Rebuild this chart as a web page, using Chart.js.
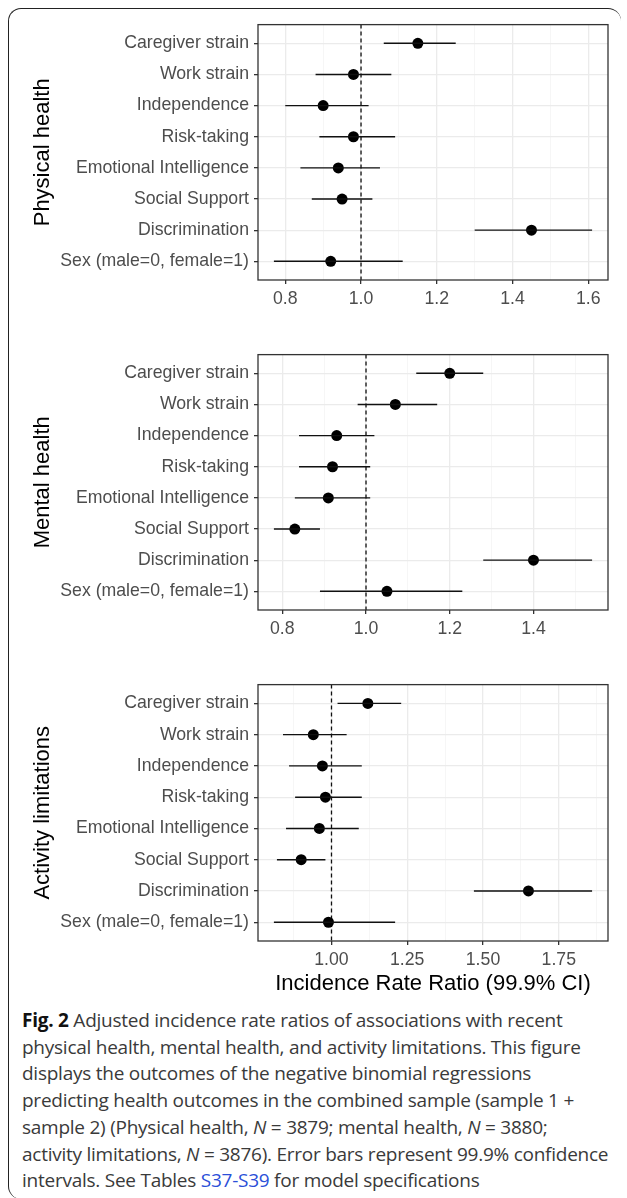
<!DOCTYPE html>
<html>
<head>
<meta charset="utf-8">
<script src="https://cdn.jsdelivr.net/npm/chart.js@4.4.0/dist/chart.umd.min.js"></script>
<style>
  html, body { margin: 0; padding: 0; background: #fff; }
  body { width: 627px; height: 1198px; position: relative; overflow: hidden; }
  .card { position: absolute; left: 8px; top: 8px; width: 613px; height: 1191px; box-sizing: border-box;
          border: 1.5px solid #222; border-right: none; border-bottom: none;
          border-radius: 13px 13px 0 13px; }
  canvas { position: absolute; left: 10px; }
  #caption { position: absolute; left: 22px; top: 1007px; width: 605px; white-space: nowrap;
             font-family: 'Open Sans', sans-serif; font-size: 19px; line-height: 26.7px; color: #3a3a3a; letter-spacing: -0.25px; }
  #caption b { color: #111; }
  #caption .lnk { color: #2b4fd8; }
</style>
</head>
<body>
<div class="card"></div>
<canvas id="physical" width="610" height="300"></canvas>
<canvas id="mental" width="610" height="300"></canvas>
<canvas id="activity" width="610" height="320"></canvas>
<div id="caption"><b>Fig. 2</b> Adjusted incidence rate ratios of associations with recent<br>physical health, mental health, and activity limitations. This figure<br>displays the outcomes of the negative binomial regressions<br>predicting health outcomes in the combined sample (sample 1 +<br>sample 2) (Physical health, <i>N</i> = 3879; mental health, <i>N</i> = 3880;<br>activity limitations, <i>N</i> = 3876). Error bars represent 99.9% confidence<br>intervals. See Tables <span class="lnk">S37-S39</span> for model specifications</div>
<script>
// predictors, top to bottom
const predictors = ['Caregiver strain', 'Work strain', 'Independence', 'Risk-taking',
  'Emotional Intelligence', 'Social Support', 'Discrimination', 'Sex (male=0, female=1)'];

// incidence rate ratios and 99.9% CI
const physicalIrr  = [1.15, 0.98, 0.90, 0.98, 0.94, 0.95, 1.45, 0.92];
const physicalLow  = [1.06, 0.88, 0.80, 0.89, 0.84, 0.87, 1.30, 0.77];
const physicalHigh = [1.25, 1.08, 1.02, 1.09, 1.05, 1.03, 1.61, 1.11];

const mentalIrr  = [1.20, 1.07, 0.93, 0.92, 0.91, 0.83, 1.40, 1.05];
const mentalLow  = [1.12, 0.98, 0.84, 0.84, 0.83, 0.78, 1.28, 0.89];
const mentalHigh = [1.28, 1.17, 1.02, 1.01, 1.01, 0.89, 1.54, 1.23];

const activityIrr  = [1.12, 0.94, 0.97, 0.98, 0.96, 0.90, 1.65, 0.99];
const activityLow  = [1.02, 0.84, 0.86, 0.88, 0.85, 0.82, 1.47, 0.81];
const activityHigh = [1.23, 1.05, 1.10, 1.10, 1.09, 0.98, 1.86, 1.21];

// x tick labels per panel
const physicalTicks = [0.8, 1.0, 1.2, 1.4, 1.6];
const mentalTicks = [0.8, 1.0, 1.2, 1.4];
const activityTicks = [1.00, 1.25, 1.50, 1.75];

const refLine = 1;

Chart.defaults.font.family = "'Liberation Sans', Arial, sans-serif";

const panelDecor = {
  id: 'panelDecor',
  beforeDatasetsDraw(chart) {
    const { ctx, chartArea: a, scales: { x } } = chart;
    const px = x.getPixelForValue(refLine);
    ctx.save();
    ctx.strokeStyle = '#111';
    ctx.lineWidth = 1.3;
    ctx.setLineDash([4, 3]);
    ctx.beginPath();
    ctx.moveTo(px, a.top);
    ctx.lineTo(px, a.bottom);
    ctx.stroke();
    ctx.restore();
  },
  afterDatasetsDraw(chart) {
    const { ctx, chartArea: a } = chart;
    ctx.save();
    ctx.strokeStyle = '#333';
    ctx.lineWidth = 1.3;
    ctx.strokeRect(a.left, a.top, a.right - a.left, a.bottom - a.top);
    ctx.restore();
  }
};

function panelConfig(yTitle, irr, low, high, majors, decimals, xTitle, axisHeight) {
  // ggplot style range: data range plus 5% each side
  const lo = Math.min(...low), hi = Math.max(...high);
  const pad = (hi - lo) * 0.05;
  const xmin = lo - pad, xmax = hi + pad;
  const step = majors[1] - majors[0];
  const minors = [majors[0] - step / 2, ...majors.map(m => m + step / 2)].filter(v => v > xmin && v < xmax);
  const allTicks = [...majors, ...minors].sort((a, b) => a - b);
  const isMajor = v => majors.some(m => Math.abs(m - v) < 1e-9);

  const errorBars = predictors.map((p, i) => ({
    data: [{ x: low[i], y: i }, { x: high[i], y: i }],
    showLine: true,
    borderColor: '#111',
    borderWidth: 1.4,
    pointRadius: 0
  }));
  const points = {
    data: irr.map((v, i) => ({ x: v, y: i })),
    pointRadius: 5.5,
    pointBackgroundColor: '#000',
    pointBorderWidth: 0
  };

  return {
    type: 'scatter',
    data: { datasets: [...errorBars, points] },
    options: {
      responsive: false,
      animation: false,
      devicePixelRatio: 1,
      layout: { padding: { left: 0, right: 12, top: 0, bottom: 0 } },
      plugins: { legend: { display: false }, tooltip: { enabled: false } },
      scales: {
        x: {
          type: 'linear',
          min: xmin,
          max: xmax,
          beginAtZero: false,
          afterBuildTicks: s => { s.ticks = allTicks.map(v => ({ value: v })); },
          afterFit: s => { s.height = axisHeight; },
          border: { display: false },
          grid: {
            color: c => isMajor(c.tick.value) ? '#ebebeb' : '#f2f2f2',
            lineWidth: c => isMajor(c.tick.value) ? 1.3 : 0.7,
            tickColor: c => isMajor(c.tick.value) ? '#333' : 'rgba(0,0,0,0)',
            tickWidth: 1.3,
            tickLength: 4
          },
          ticks: {
            autoSkip: false,
            maxRotation: 0,
            padding: 4,
            color: '#4d4d4d',
            font: { size: 17.7 },
            callback: v => isMajor(v) ? v.toFixed(decimals) : ''
          },
          title: {
            display: !!xTitle,
            text: xTitle || '',
            color: '#000',
            font: { size: 22 },
            padding: { top: 0, bottom: 0 }
          }
        },
        y: {
          type: 'linear',
          reverse: true,
          min: -0.6,
          max: predictors.length - 1 + 0.6,
          afterBuildTicks: s => { s.ticks = predictors.map((p, i) => ({ value: i })); },
          afterFit: s => { s.width = 248; },
          border: { display: false },
          grid: {
            color: '#ebebeb',
            lineWidth: 1.3,
            tickColor: '#333',
            tickWidth: 1.3,
            tickLength: 4
          },
          ticks: {
            autoSkip: false,
            padding: 5,
            color: '#4d4d4d',
            font: { size: 17.7 },
            callback: v => predictors[v]
          },
          title: {
            display: true,
            text: yTitle,
            color: '#000',
            font: { size: 22 },
            padding: { top: 20, bottom: 0 }
          }
        }
      }
    },
    plugins: [panelDecor]
  };
}

// place the canvas so that the plot box lands at plotTop with the given height
function makePanel(id, plotTop, plotHeight, axisHeight, ...args) {
  const canvas = document.getElementById(id);
  let chart = new Chart(canvas, panelConfig(...args, axisHeight));
  const extra = chart.chartArea.top;
  chart.destroy();
  canvas.width = 610;
  canvas.height = Math.round(extra + plotHeight + axisHeight);
  canvas.style.top = (plotTop - extra) + 'px';
  new Chart(canvas, panelConfig(...args, axisHeight));
}

makePanel('physical', 25, 255, 32, 'Physical health', physicalIrr, physicalLow, physicalHigh, physicalTicks, 1, null);
makePanel('mental', 355, 255, 32, 'Mental health', mentalIrr, mentalLow, mentalHigh, mentalTicks, 1, null);
makePanel('activity', 685, 256, 56, 'Activity limitations', activityIrr, activityLow, activityHigh, activityTicks, 2,
  'Incidence Rate Ratio (99.9% CI)');
</script>
</body>
</html>
